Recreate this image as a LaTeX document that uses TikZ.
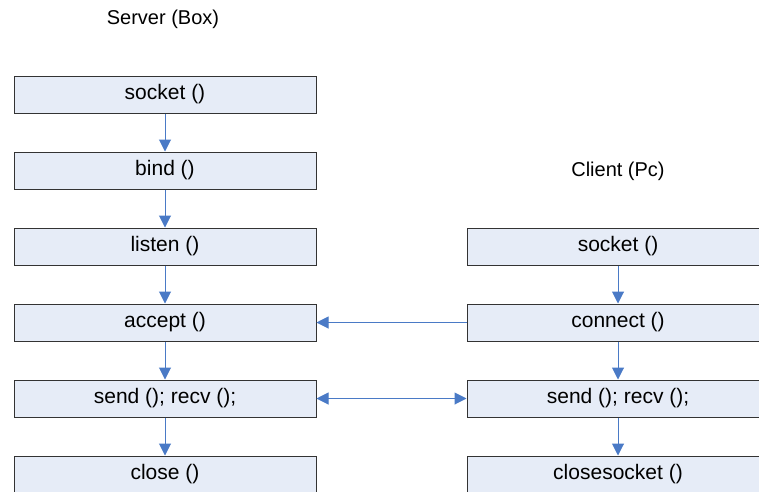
\documentclass[tikz,border=0pt]{standalone}
\usepackage{fontspec}
\setmainfont{Liberation Sans}
\usepackage{tikz}
\usetikzlibrary{arrows.meta,positioning}
\definecolor{callfill}{HTML}{E6ECF7}
\definecolor{calldraw}{HTML}{333333}
\definecolor{flowblue}{HTML}{4A7AC6}
\tikzset{
  callbox/.style={draw=calldraw, fill=callfill, line width=1pt, minimum width=302pt, minimum height=37pt, inner sep=0pt, font=\fontsize{21}{24}\selectfont},
  sidetitle/.style={font=\fontsize{20}{23}\selectfont},
  flowedge/.style={-{Triangle[length=12pt,width=12pt]}, line width=1pt, draw=flowblue, color=flowblue},
  bothedge/.style={{Triangle[length=12pt,width=12pt]}-{Triangle[length=12pt,width=12pt]}, line width=1pt, draw=flowblue, color=flowblue}
}

\begin{document}
\begin{tikzpicture}[x=1pt,y=-1pt, node distance=38pt]
  \useasboundingbox (0,0) rectangle (759,491);
  % server side
  \node[sidetitle] (srvtitle) at (163,19) {Server (Box)};
  \node[callbox] (srvsocket) at (165,94.5) {socket ()};
  \node[callbox, below=of srvsocket] (srvbind) {bind ()};
  \node[callbox, below=of srvbind] (srvlisten) {listen ()};
  \node[callbox, below=of srvlisten] (srvaccept) {accept ()};
  \node[callbox, below=of srvaccept] (srvsendrecv) {send (); recv ();};
  \node[callbox, below=of srvsendrecv] (srvclose) {close ()};
  % client side
  \node[sidetitle] (clititle) at (618,171) {Client (Pc)};
  \node[callbox] (clisocket) at (618,246.5) {socket ()};
  \node[callbox, below=of clisocket] (cliconnect) {connect ()};
  \node[callbox, below=of cliconnect] (clisendrecv) {send (); recv ();};
  \node[callbox, below=of clisendrecv] (cliclose) {closesocket ()};
  % flow
  \draw[flowedge] (srvsocket) -- (srvbind);
  \draw[flowedge] (srvbind) -- (srvlisten);
  \draw[flowedge] (srvlisten) -- (srvaccept);
  \draw[flowedge] (srvaccept) -- (srvsendrecv);
  \draw[flowedge] (srvsendrecv) -- (srvclose);
  \draw[flowedge] (clisocket) -- (cliconnect);
  \draw[flowedge] (cliconnect) -- (clisendrecv);
  \draw[flowedge] (clisendrecv) -- (cliclose);
  \draw[flowedge] (cliconnect) -- (srvaccept);
  \draw[bothedge] (srvsendrecv) -- (clisendrecv);
\end{tikzpicture}
\end{document}
